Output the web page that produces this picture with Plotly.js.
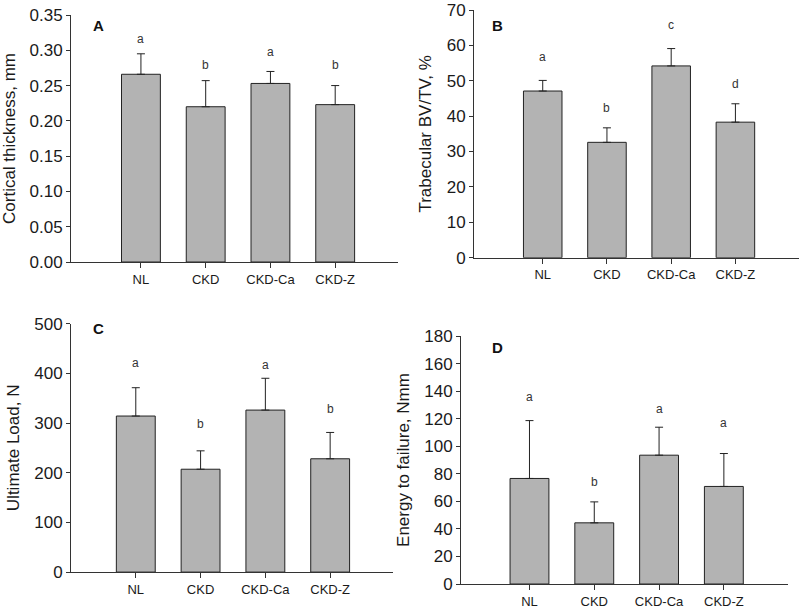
<!DOCTYPE html>
<html>
<head>
<meta charset="utf-8">
<script src="https://cdn.plot.ly/plotly-3.0.1.min.js"></script>
<style>html,body{margin:0;padding:0;background:#fff;}#chart{width:800px;height:609px;}</style>
</head>
<body>
<div id="chart"></div>
<script>
// Categories
const groups = ["NL", "CKD", "CKD-Ca", "CKD-Z"];

// Panel A: Cortical thickness, mm
const corticalMean = [0.266, 0.220, 0.253, 0.223];
const corticalSD   = [0.029, 0.037, 0.017, 0.027];
const corticalSig  = ["a", "b", "a", "b"];
const corticalSigY = [0.316, 0.279, 0.298, 0.279];

// Panel B: Trabecular BV/TV, %
const bvtvMean = [47.1, 32.6, 54.2, 38.3];
const bvtvSD   = [3.0, 4.1, 4.9, 5.2];
const bvtvSig  = ["a", "b", "c", "d"];
const bvtvSigY = [56.8, 42.2, 65.8, 49.0];

// Panel C: Ultimate Load, N
const loadMean = [314, 207, 326, 228];
const loadSD   = [57, 37, 64, 53];
const loadSig  = ["a", "b", "a", "b"];
const loadSigY = [420, 297, 417, 328];

// Panel D: Energy to failure, Nmm
const energyMean = [76.6, 44.4, 93.5, 70.8];
const energySD   = [42.0, 15.2, 20.3, 23.9];
const energySig  = ["a", "b", "a", "a"];
const energySigY = [136, 74, 127, 117];

const W = 800, H = 609;
const px = v => v / W;
const py = v => 1 - v / H;

const barColor = "#b3b3b3";
const edge = "#222";
const txt = "#1a1a1a";

function barTrace(means, sds, xa, ya) {
  return {
    type: "bar", x: groups, y: means, xaxis: xa, yaxis: ya,
    width: 0.6,
    marker: {color: barColor, line: {color: edge, width: 1}},
    error_y: {type: "data", symmetric: false, array: sds,
              arrayminus: sds.map(() => 0), width: 4, thickness: 1, color: edge},
    hoverinfo: "skip", showlegend: false
  };
}

const data = [
  barTrace(corticalMean, corticalSD, "x", "y"),
  barTrace(bvtvMean, bvtvSD, "x2", "y2"),
  barTrace(loadMean, loadSD, "x3", "y3"),
  barTrace(energyMean, energySD, "x4", "y4")
];

const tickFont = {family: "Liberation Sans, Arial, sans-serif", size: 17, color: txt};
const catFont = {family: "Liberation Sans, Arial, sans-serif", size: 13, color: txt};

function xAxis(domain, anchor, range) {
  return {
    domain: domain, anchor: anchor, type: "category", range: range,
    showline: true, linecolor: "#333", linewidth: 1,
    ticks: "outside", ticklen: 5, tickcolor: "#333", tickwidth: 1,
    showgrid: false, zeroline: false, tickfont: catFont, fixedrange: true
  };
}
function yAxis(domain, anchor, range, dtick, title, fmt) {
  return {
    domain: domain, anchor: anchor, range: range, dtick: dtick, tick0: 0,
    showline: true, linecolor: "#333", linewidth: 1,
    ticks: "outside", ticklen: 4, tickcolor: "#333", tickwidth: 1,
    showgrid: false, zeroline: false, tickfont: tickFont,
    tickformat: fmt || "",
    title: {text: title, font: tickFont, standoff: 10}, fixedrange: true
  };
}

const layout = {
  width: W, height: H,
  margin: {l: 0, r: 0, t: 0, b: 0},
  paper_bgcolor: "#fff", plot_bgcolor: "#fff",
  bargap: 0.4,
  xaxis:  xAxis([px(71), px(398)], "y", [-1.08, 3.97]),
  yaxis:  yAxis([py(262), py(15)], "x", [0, 0.35], 0.05, "Cortical thickness, mm", ".2f"),
  xaxis2: xAxis([px(474), px(799)], "y2", [-1.07, 3.99]),
  yaxis2: yAxis([py(257.7), py(10)], "x2", [0, 70], 10, "Trabecular BV/TV, %"),
  xaxis3: xAxis([px(71), px(393)], "y3", [-1.0, 3.97]),
  yaxis3: yAxis([py(572.1), py(323.6)], "x3", [0, 500], 100, "Ultimate Load, N"),
  xaxis4: xAxis([px(461), px(788)], "y4", [-1.057, 3.99]),
  yaxis4: yAxis([py(584), py(336)], "x4", [0, 180], 20, "Energy to failure, Nmm"),
  annotations: []
};

const letterFont = {family: "Liberation Sans, Arial, sans-serif", size: 12, color: "#333"};
function addLetters(sig, sigY, xr, yr) {
  sig.forEach((s, i) => {
    layout.annotations.push({text: s, x: groups[i], y: sigY[i], xref: xr, yref: yr,
      showarrow: false, xanchor: "center", yanchor: "middle", font: letterFont});
  });
}
addLetters(corticalSig, corticalSigY, "x", "y");
addLetters(bvtvSig, bvtvSigY, "x2", "y2");
addLetters(loadSig, loadSigY, "x3", "y3");
addLetters(energySig, energySigY, "x4", "y4");

const panelFont = {family: "Liberation Sans, Arial, sans-serif", size: 15, color: "#111", weight: "bold"};
[["A", 98, 26], ["B", 497, 26], ["C", 98, 328], ["D", 497, 347]].forEach(p => {
  layout.annotations.push({text: "<b>" + p[0] + "</b>", x: px(p[1]), y: py(p[2]),
    xref: "paper", yref: "paper", showarrow: false, xanchor: "center", yanchor: "middle",
    font: panelFont});
});

Plotly.newPlot("chart", data, layout, {displayModeBar: false, staticPlot: true});
</script>
</body>
</html>
